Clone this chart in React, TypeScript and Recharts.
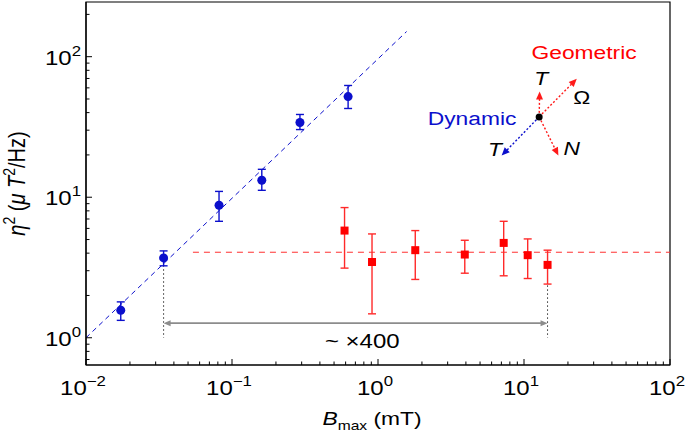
import React from 'react';
import {
  ComposedChart,
  Scatter,
  XAxis,
  YAxis,
  ErrorBar,
  ReferenceLine,
  ReferenceDot,
  ReferenceArea,
  Label,
} from 'recharts';

// dynamic regime (blue circles)
const blueB = [0.0173, 0.034, 0.0815, 0.16, 0.292, 0.624];
const blueEta = [1.57, 3.7, 8.76, 13.2, 34, 52];
const blueHigh = [1.8, 4.15, 11.0, 15.8, 38.8, 62.4];
const blueLow = [1.33, 3.25, 6.74, 11.2, 30.3, 42.8];

// geometric regime (red squares)
const redB = [0.59, 0.91, 1.8, 3.93, 7.26, 10.6, 14.5];
const redEta = [5.79, 3.46, 4.2, 3.91, 4.73, 3.87, 3.3];
const redHigh = [8.44, 5.48, 5.79, 4.94, 6.74, 5.05, 4.2];
const redLow = [3.13, 1.48, 2.6, 2.88, 2.76, 2.64, 2.41];

// fits
const blueFitB = [0.01, 1.57];
const blueFitEta = [1.0, 151];
const redFitB = [0.054, 100];
const redFitEta = 4.06;

// ~x400 span
const spanB = [0.034, 14.5];
const spanArrowEta = 1.27;
const spanTopEta = [3.28, 2.36];

const xDecades = [0.01, 0.1, 1, 10, 100];
const yDecades = [1, 10, 100];

const X_DOMAIN = [0.01, 100];
const Y_DOMAIN = [0.64, 245];

const BLUE = '#0b0fcc';
const RED = '#ff0000';
const FONT = '"Liberation Sans", Arial, Helvetica, sans-serif';
const SX = 1.2; // text in the source is a bit wider than tall

const minorTicks = (from: number, to: number) => {
  const out: number[] = [];
  for (let d = from; d <= to; d *= 10) {
    for (let m = 1; m < 10; m++) {
      out.push(+(d * m).toPrecision(3));
    }
  }
  return out;
};

const xTicks = minorTicks(0.01, 10).concat([100]);
const yTicks = [0.7, 0.8, 0.9].concat(minorTicks(1, 10), [100, 200]);

const isDecade = (v: number) => Math.abs(Math.log10(v) - Math.round(Math.log10(v))) < 1e-6;
const expOf = (v: number) => {
  const e = Math.round(Math.log10(v));
  return e < 0 ? `\u2212${-e}` : `${e}`;
};

const blueData = blueB.map((x, i) => ({
  x,
  y: blueEta[i],
  err: [blueEta[i] - blueLow[i], blueHigh[i] - blueEta[i]],
}));
const redData = redB.map((x, i) => ({
  x,
  y: redEta[i],
  err: [redEta[i] - redLow[i], redHigh[i] - redEta[i]],
}));

const XTick = (props: any) => {
  const { x, y, payload } = props;
  const major = isDecade(payload.value) && xDecades.includes(+payload.value.toPrecision(3));
  return (
    <g>
      <line x1={x} y1={y} x2={x} y2={y - (major ? 6 : 3.5)} stroke="#000" strokeWidth={1} />
      {major && (
        <text
          transform={`translate(${x - 3},${y + 30}) scale(${SX},1)`}
          textAnchor="middle"
          fontFamily={FONT}
          fontSize={20}
          fill="#000"
        >
          <tspan>10</tspan>
          <tspan dy={-9} fontSize={14}>{expOf(payload.value)}</tspan>
        </text>
      )}
    </g>
  );
};

const YTick = (props: any) => {
  const { x, y, payload } = props;
  const major = isDecade(payload.value) && yDecades.includes(+payload.value.toPrecision(3));
  return (
    <g>
      <line x1={x} y1={y} x2={x + (major ? 6 : 3.5)} y2={y} stroke="#000" strokeWidth={1} />
      {major && (
        <text
          transform={`translate(${x - 5},${y + 8}) scale(${SX},1)`}
          textAnchor="end"
          fontFamily={FONT}
          fontSize={20}
          fill="#000"
        >
          <tspan>10</tspan>
          <tspan dy={-9} fontSize={14}>{expOf(payload.value)}</tspan>
        </text>
      )}
    </g>
  );
};

const arrowHead = (x1: number, y1: number, x2: number, y2: number, len: number, half: number, color: string) => {
  const dx = x2 - x1;
  const dy = y2 - y1;
  const d = Math.hypot(dx, dy) || 1;
  const ux = dx / d;
  const uy = dy / d;
  const bx = x2 - ux * len;
  const by = y2 - uy * len;
  const pts = `${x2},${y2} ${bx - uy * half},${by + ux * half} ${bx + uy * half},${by - ux * half}`;
  return <polygon points={pts} fill={color} stroke="none" />;
};

const dottedArrow = (color: string) => (p: any) => {
  const { x1, y1, x2, y2 } = p;
  const d = Math.hypot(x2 - x1, y2 - y1) || 1;
  const ex = x2 - ((x2 - x1) / d) * 6;
  const ey = y2 - ((y2 - y1) / d) * 6;
  return (
    <g>
      <line x1={x1} y1={y1} x2={ex} y2={ey} stroke={color} strokeWidth={1.4} strokeDasharray="2 2" />
      {arrowHead(x1, y1, x2, y2, 8, 3.5, color)}
    </g>
  );
};

const spanArrow = (p: any) => {
  const { x1, y1, x2, y2 } = p;
  return (
    <g>
      <line x1={x1 + 4} y1={y1} x2={x2 - 4} y2={y2} stroke="#8c8c8c" strokeWidth={1.6} />
      {arrowHead(x2, y2, x1, y1, 7, 3, '#8c8c8c')}
      {arrowHead(x1, y1, x2, y2, 7, 3, '#8c8c8c')}
    </g>
  );
};

const textAt = (content: React.ReactNode, color: string, size: number, italic = false) => (p: any) => (
  <text
    transform={`translate(${p.cx},${p.cy}) scale(${SX},1)`}
    textAnchor="middle"
    dominantBaseline="central"
    fontFamily={FONT}
    fontSize={size}
    fontStyle={italic ? 'italic' : 'normal'}
    fill={color}
  >
    {content}
  </text>
);

const YTitle = (props: any) => {
  const vb = props.viewBox || { x: 0, y: 0, width: 86, height: 363 };
  const cx = vb.x + 25;
  const cy = vb.y + vb.height / 2;
  return (
    <text
      transform={`translate(${cx},${cy}) scale(${SX},1) rotate(-90)`}
      textAnchor="middle"
      fontFamily={FONT}
      fontSize={20}
      fill="#000"
    >
      <tspan fontStyle="italic">η</tspan>
      <tspan dy={-8} fontSize={14}>2</tspan>
      <tspan dy={8}> (</tspan>
      <tspan fontStyle="italic">μ T</tspan>
      <tspan dy={-8} fontSize={14}>2</tspan>
      <tspan dy={8}>/Hz)</tspan>
    </text>
  );
};

const XTitle = (props: any) => {
  const vb = props.viewBox || { x: 86, y: 365, width: 584, height: 68 };
  const cx = vb.x + vb.width / 2 - 6;
  return (
    <text
      transform={`translate(${cx},${vb.y + 60}) scale(${SX},1)`}
      textAnchor="middle"
      fontFamily={FONT}
      fontSize={19}
      fill="#000"
    >
      <tspan fontStyle="italic">B</tspan>
      <tspan dy={5} fontSize={13}>max</tspan>
      <tspan dy={-5}> (mT)</tspan>
    </text>
  );
};

const dotAt = { x: 12.7, y: 37.3 };

export default function App() {
  return (
    <div style={{ position: 'absolute', left: 0, top: 0, background: '#fff' }}>
      <ComposedChart width={685} height={433} margin={{ top: 2, right: 15, bottom: 0, left: 0 }}>
        <XAxis
          dataKey="x"
          type="number"
          scale="log"
          domain={X_DOMAIN}
          allowDataOverflow
          ticks={xTicks}
          interval={0}
          tickSize={0}
          tickMargin={0}
          tick={<XTick />}
          height={68}
          axisLine={{ stroke: '#000', strokeWidth: 1.2 }}
        >
          <Label content={<XTitle />} />
        </XAxis>
        <YAxis
          dataKey="y"
          type="number"
          scale="log"
          domain={Y_DOMAIN}
          allowDataOverflow
          ticks={yTicks}
          interval={0}
          tickSize={0}
          tickMargin={0}
          tick={<YTick />}
          width={86}
          axisLine={{ stroke: '#000', strokeWidth: 1.2 }}
        >
          <Label content={<YTitle />} />
        </YAxis>
        <ReferenceArea
          x1={X_DOMAIN[0]}
          x2={X_DOMAIN[1]}
          y1={Y_DOMAIN[0]}
          y2={Y_DOMAIN[1]}
          fill="none"
          stroke="#000"
          strokeWidth={1.2}
          ifOverflow="visible"
        />

        <ReferenceLine
          segment={[{ x: blueFitB[0], y: blueFitEta[0] }, { x: blueFitB[1], y: blueFitEta[1] }]}
          stroke={BLUE}
          strokeWidth={1}
          strokeDasharray="5 4"
          ifOverflow="visible"
        />
        <ReferenceLine
          segment={[{ x: redFitB[0], y: redFitEta }, { x: redFitB[1], y: redFitEta }]}
          stroke="#ff3030"
          strokeWidth={1}
          strokeDasharray="6 5"
          ifOverflow="visible"
        />
        <ReferenceLine
          segment={[{ x: spanB[0], y: spanTopEta[0] }, { x: spanB[0], y: 1 }]}
          stroke="#333"
          strokeWidth={1}
          strokeDasharray="1.5 2.5"
          ifOverflow="visible"
        />
        <ReferenceLine
          segment={[{ x: spanB[1], y: spanTopEta[1] }, { x: spanB[1], y: 1 }]}
          stroke="#333"
          strokeWidth={1}
          strokeDasharray="1.5 2.5"
          ifOverflow="visible"
        />
        <ReferenceLine
          segment={[{ x: spanB[0], y: spanArrowEta }, { x: spanB[1], y: spanArrowEta }]}
          shape={spanArrow}
          ifOverflow="visible"
        />
        <ReferenceDot x={0.78} y={0.95} r={0} shape={textAt('~ ×400', '#000', 20)} ifOverflow="visible" />

        {/* T-N-Omega frame sketch */}
        <ReferenceLine segment={[dotAt, { x: 12.8, y: 56.5 }]} shape={dottedArrow('#ff1a1a')} ifOverflow="visible" />
        <ReferenceLine segment={[dotAt, { x: 23.0, y: 69.6 }]} shape={dottedArrow('#ff1a1a')} ifOverflow="visible" />
        <ReferenceLine segment={[dotAt, { x: 17.2, y: 19.8 }]} shape={dottedArrow('#ff1a1a')} ifOverflow="visible" />
        <ReferenceLine segment={[dotAt, { x: 7.03, y: 19.8 }]} shape={dottedArrow(BLUE)} ifOverflow="visible" />
        <ReferenceDot x={dotAt.x} y={dotAt.y} r={3.5} fill="#000" stroke="none" ifOverflow="visible" />
        <ReferenceDot x={25.8} y={107} r={0} shape={textAt('Geometric', '#ff0000', 19)} ifOverflow="visible" />
        <ReferenceDot x={4.41} y={36.3} r={0} shape={textAt('Dynamic', BLUE, 19)} ifOverflow="visible" />
        <ReferenceDot x={13.1} y={69.9} r={0} shape={textAt('T', '#000', 19, true)} ifOverflow="visible" />
        <ReferenceDot x={24.9} y={51.5} r={0} shape={textAt('Ω', '#000', 19)} ifOverflow="visible" />
        <ReferenceDot x={21.2} y={22.4} r={0} shape={textAt('N', '#000', 19, true)} ifOverflow="visible" />
        <ReferenceDot x={6.33} y={21.9} r={0} shape={textAt('T', '#000', 19, true)} ifOverflow="visible" />

        <Scatter
          data={blueData}
          dataKey="y"
          isAnimationActive={false}
          shape={(p: any) => <circle cx={p.cx} cy={p.cy} r={4.5} fill={BLUE} />}
        >
          <ErrorBar dataKey="err" direction="y" width={4} stroke={BLUE} strokeWidth={1.4} isAnimationActive={false} />
        </Scatter>
        <Scatter
          data={redData}
          dataKey="y"
          isAnimationActive={false}
          shape={(p: any) => <rect x={p.cx - 4} y={p.cy - 4} width={8} height={8} fill={RED} />}
        >
          <ErrorBar dataKey="err" direction="y" width={4} stroke="#ff2a2a" strokeWidth={1.4} isAnimationActive={false} />
        </Scatter>
      </ComposedChart>
    </div>
  );
}
